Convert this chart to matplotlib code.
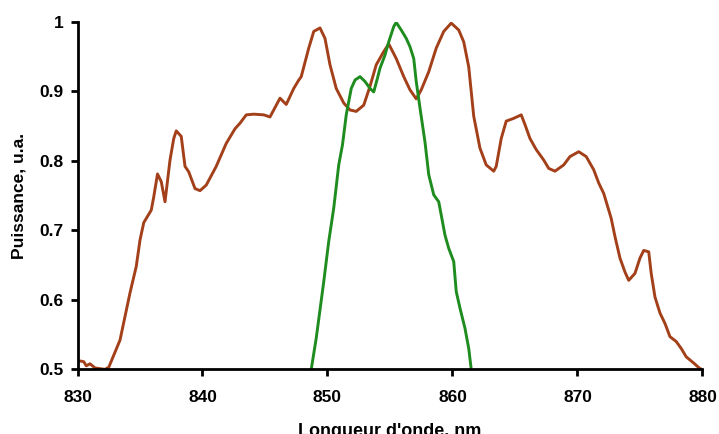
import matplotlib
matplotlib.use("Agg")
import matplotlib.pyplot as plt
from matplotlib.ticker import FuncFormatter

# Spectre large (courbe marron)
lambda_large = [830.0, 830.2, 830.5, 830.7, 831.0, 831.4, 832.2, 832.5, 833.4, 834.2,
                834.7, 835.0, 835.3, 835.9, 836.1, 836.4, 836.7, 837.0, 837.4, 837.7,
                837.9, 838.3, 838.6, 838.9, 839.4, 839.8, 840.3, 841.1, 841.9, 842.6,
                843.0, 843.5, 844.1, 844.9, 845.4, 846.2, 846.7, 847.3, 847.7, 847.9,
                848.5, 848.9, 849.4, 849.8, 850.2, 850.7, 851.3, 851.8, 852.3, 852.9,
                853.4, 853.9, 854.5, 854.9, 855.5, 856.1, 856.6, 857.1, 857.5, 858.1,
                858.7, 859.3, 859.9, 860.5, 860.9, 861.3, 861.7, 862.2, 862.7, 863.3,
                863.5, 863.9, 864.3, 864.9, 865.5, 865.8, 866.2, 866.7, 867.3, 867.7,
                868.2, 868.9, 869.4, 870.1, 870.7, 871.3, 871.7, 872.1, 872.5, 872.7,
                873.0, 873.4, 873.8, 874.1, 874.6, 875.0, 875.3, 875.7, 875.9, 876.2,
                876.6, 877.0, 877.4, 877.9, 878.3, 878.7, 879.3, 879.8, 880.0]
puissance_large = [0.510, 0.512, 0.511, 0.505, 0.508, 0.502, 0.500, 0.503, 0.542, 0.610,
                   0.648, 0.686, 0.711, 0.729, 0.748, 0.781, 0.770, 0.741, 0.801, 0.832,
                   0.843, 0.835, 0.792, 0.784, 0.760, 0.757, 0.765, 0.792, 0.825, 0.846,
                   0.854, 0.866, 0.867, 0.866, 0.863, 0.890, 0.881, 0.904, 0.916, 0.921,
                   0.962, 0.986, 0.991, 0.976, 0.938, 0.904, 0.883, 0.873, 0.871, 0.880,
                   0.907, 0.938, 0.957, 0.968, 0.947, 0.921, 0.902, 0.889, 0.902, 0.928,
                   0.962, 0.986, 0.998, 0.988, 0.971, 0.935, 0.864, 0.818, 0.794, 0.785,
                   0.792, 0.832, 0.857, 0.861, 0.866, 0.852, 0.832, 0.816, 0.801, 0.789,
                   0.785, 0.794, 0.806, 0.813, 0.806, 0.787, 0.768, 0.753, 0.729, 0.717,
                   0.691, 0.660, 0.640, 0.628, 0.638, 0.660, 0.671, 0.669, 0.638, 0.604,
                   0.581, 0.566, 0.547, 0.540, 0.530, 0.518, 0.509, 0.501, 0.500]

# Spectre filtré (courbe verte)
lambda_filtre = [848.7, 849.1, 849.7, 850.1, 850.5, 850.9, 851.2, 851.5, 851.9, 852.2,
                 852.6, 853.0, 853.4, 853.7, 854.0, 854.2, 854.6, 854.9, 855.3, 855.5,
                 855.9, 856.3, 856.6, 856.9, 857.1, 857.4, 857.8, 858.1, 858.5, 858.9,
                 859.1, 859.4, 859.7, 860.1, 860.3, 860.6, 861.0, 861.3, 861.5]
puissance_filtre = [0.500, 0.545, 0.626, 0.684, 0.732, 0.794, 0.823, 0.866, 0.904, 0.916,
                    0.921, 0.914, 0.904, 0.899, 0.919, 0.933, 0.952, 0.971, 0.993, 0.999,
                    0.988, 0.976, 0.964, 0.947, 0.914, 0.876, 0.827, 0.780, 0.751, 0.741,
                    0.722, 0.693, 0.674, 0.655, 0.612, 0.588, 0.559, 0.530, 0.500]

plt.rcParams['font.family'] = ['Liberation Sans', 'DejaVu Sans']
plt.rcParams['font.weight'] = 'bold'

fig = plt.figure(figsize=(7.19, 4.34), dpi=100)
ax = fig.add_axes([0.1078, 0.149, 0.8692, 0.801])

ax.plot(lambda_large, puissance_large, color='#A3401A', linewidth=2.1)
ax.plot(lambda_filtre, puissance_filtre, color='#1E8C1E', linewidth=2.1)

ax.set_xlim(830, 880)
ax.set_ylim(0.5, 1.0)
ax.set_xticks([830, 840, 850, 860, 870, 880])
ax.set_yticks([0.5, 0.6, 0.7, 0.8, 0.9, 1.0])
ax.yaxis.set_major_formatter(FuncFormatter(lambda v, p: '%g' % round(v, 2)))

for side in ['top', 'right']:
    ax.spines[side].set_visible(False)
for side in ['left', 'bottom']:
    ax.spines[side].set_linewidth(2)
ax.tick_params(direction='out', length=5, width=2, labelsize=12.5)
ax.tick_params(axis='x', pad=10)
ax.tick_params(axis='y', pad=5)
for lab in ax.get_xticklabels() + ax.get_yticklabels():
    lab.set_fontweight('bold')

ax.set_xlabel("Longueur d'onde, nm", fontsize=13, fontweight='bold', labelpad=13)
ax.set_ylabel("Puissance, u.a.", fontsize=12.5, fontweight='bold', labelpad=9)

fig.savefig('out.png', dpi=100)
